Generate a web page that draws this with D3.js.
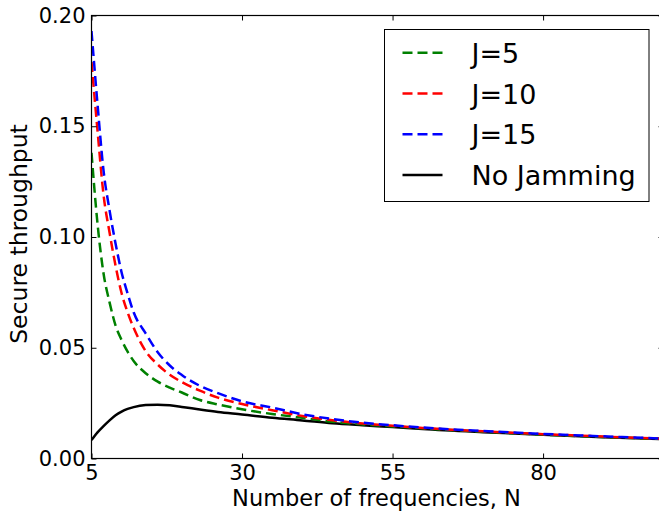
<!DOCTYPE html>
<html><head><meta charset="utf-8">
<script src="https://cdnjs.cloudflare.com/ajax/libs/d3/7.8.5/d3.min.js"></script>
<style>body{margin:0;background:#fff}svg{display:block}text{font-family:"DejaVu Sans",sans-serif}</style>
</head><body><svg id="c" width="659" height="511"></svg>
<script>
const N = [5,6,7,8,9,10,11,12,14,16,18,20,23,26,30,35,40,45,50,55,60,70,80,90,100];
const j5 = [0.138,0.106,0.0835,0.0705,0.0600,0.0535,0.0482,0.0440,0.0385,0.0347,0.0320,0.0298,0.0264,0.0244,0.0222,0.0201,0.0184,0.0166,0.0154,0.0145,0.0136,0.0121,0.0108,0.0097,0.0088];
const j10 = [0.179,0.148,0.119,0.102,0.087,0.0746,0.0660,0.059,0.0485,0.0424,0.0378,0.0345,0.0306,0.0275,0.0246,0.0218,0.0192,0.0173,0.0158,0.0148,0.0138,0.0123,0.0110,0.0099,0.0089];
const j15 = [0.193,0.160,0.130,0.112,0.097,0.084,0.0745,0.066,0.0565,0.0480,0.0420,0.0377,0.0328,0.0295,0.0258,0.0230,0.0200,0.0178,0.0162,0.0150,0.0140,0.0124,0.0111,0.0100,0.0090];
const noJam = [0.0083,0.0118,0.0146,0.0172,0.0195,0.0212,0.0224,0.0232,0.0241,0.0243,0.0240,0.0233,0.0221,0.0210,0.0199,0.0184,0.0172,0.0159,0.0150,0.0142,0.0133,0.0119,0.0107,0.0096,0.0087];
const xTicks = [5,30,55,80];
const yTicks = [0,0.05,0.10,0.15,0.20];
const seriesNames = ["J=5","J=10","J=15","No Jamming"];
const seriesColors = ["#008000","#ff0000","#0000ff","#000000"];

const L = 91.5, R = 663.5, T = 15.5, B = 458.5;
const x = d3.scaleLinear().domain([5,100]).range([L,R]);
const y = d3.scaleLinear().domain([0,0.20]).range([B,T]);
const svg = d3.select("#c");

svg.append("defs").append("clipPath").attr("id","clip")
  .append("rect").attr("x",L).attr("y",T).attr("width",R-L).attr("height",B-T);

const line = d3.line().x(d=>x(d[0])).y(d=>y(d[1])).curve(d3.curveMonotoneX);
const g = svg.append("g").attr("clip-path","url(#clip)");
const data = [j5,j10,j15,noJam];
[3,0,1,2].forEach(i=>{
  g.append("path").datum(N.map((n,k)=>[n,data[i][k]]))
   .attr("d",line).attr("fill","none").attr("stroke",seriesColors[i])
   .attr("stroke-width",2.5)
   .attr("stroke-dasharray", i<3 ? "10,5" : null);
});

const fs = 21;
svg.append("g").attr("transform",`translate(0,${B})`)
  .call(d3.axisBottom(x).tickValues(xTicks).tickSize(-5).tickPadding(7).tickFormat(d3.format("d")))
  .call(a=>{a.select(".domain").remove();a.selectAll("text").attr("font-size",fs).attr("font-family","DejaVu Sans");});
svg.append("g").attr("transform",`translate(0,${T})`)
  .call(d3.axisTop(x).tickValues(xTicks).tickSize(-5).tickFormat(""))
  .call(a=>a.select(".domain").remove());
svg.append("g").attr("transform",`translate(${L},0)`)
  .call(d3.axisLeft(y).tickValues(yTicks).tickSize(-5).tickPadding(6).tickFormat(d3.format(".2f")))
  .call(a=>{a.select(".domain").remove();a.selectAll("text").attr("font-size",fs).attr("font-family","DejaVu Sans");});
svg.append("g").attr("transform",`translate(${R},0)`)
  .call(d3.axisRight(y).tickValues(yTicks).tickSize(-5).tickFormat(""))
  .call(a=>a.select(".domain").remove());
svg.selectAll(".tick line").attr("stroke","#000").attr("stroke-width",1);

svg.append("rect").attr("x",L).attr("y",T).attr("width",R-L).attr("height",B-T)
  .attr("fill","none").attr("stroke","#000").attr("stroke-width",1.2);

svg.append("text").attr("x",(L+R)/2 - 1).attr("y",506).attr("text-anchor","middle")
  .attr("font-size",22.5).text("Number of frequencies, N");
svg.append("text").attr("transform",`translate(27,${(T+B)/2 - 3}) rotate(-90)`).attr("text-anchor","middle")
  .attr("font-size",23.5).text("Secure throughput");

const lg = svg.append("g");
lg.append("rect").attr("x",384.5).attr("y",29.5).attr("width",264.5).attr("height",172)
  .attr("fill","#fff").attr("stroke","#000").attr("stroke-width",1);
seriesNames.forEach((s,i)=>{
  const cy = 52.7 + i*40.8;
  lg.append("line").attr("x1",402.5).attr("x2",442.5).attr("y1",cy).attr("y2",cy)
    .attr("stroke",seriesColors[i]).attr("stroke-width",2.5)
    .attr("stroke-dasharray", i<3 ? "10,5" : null);
  lg.append("text").attr("x",471.5).attr("y",cy+10).attr("font-size",27).text(s);
});
</script></body></html>
